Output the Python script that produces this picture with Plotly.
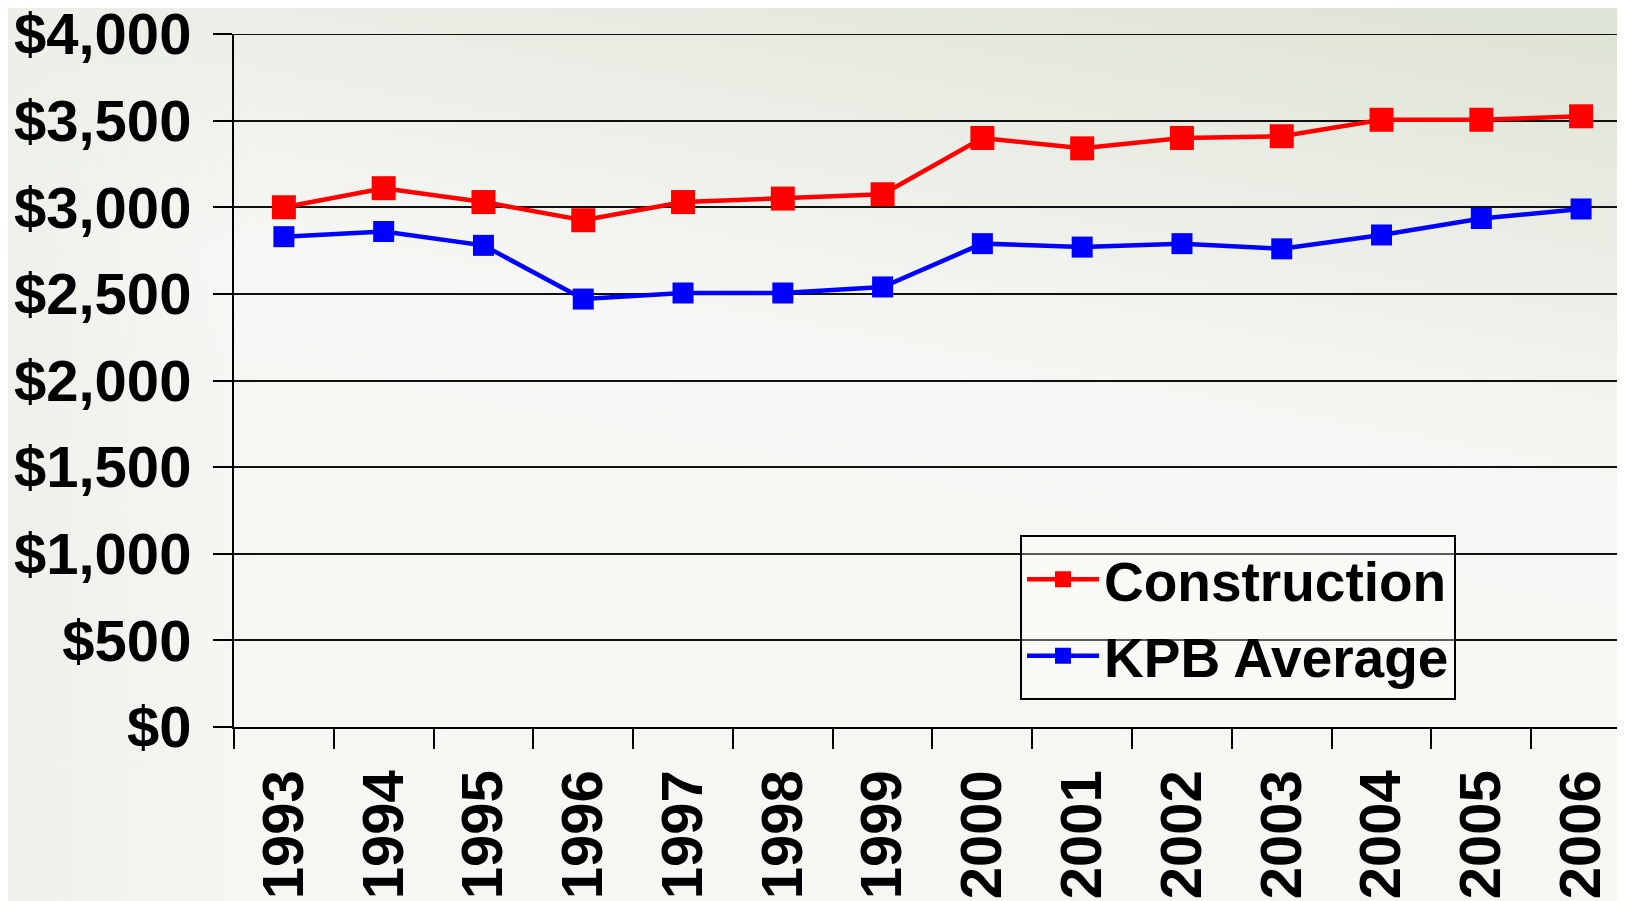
import base64
import plotly.graph_objects as go

# 연도별 데이터
years = ["1993", "1994", "1995", "1996", "1997", "1998", "1999",
         "2000", "2001", "2002", "2003", "2004", "2005", "2006"]
construction = [3000, 3110, 3030, 2925, 3030, 3050, 3075,
                3400, 3340, 3400, 3410, 3505, 3505, 3525]
kpb_average = [2830, 2860, 2780, 2470, 2505, 2505, 2540,
               2790, 2770, 2790, 2760, 2840, 2935, 2990]
y_ticks = [0, 500, 1000, 1500, 2000, 2500, 3000, 3500, 4000]
y_tick_text = ["$0", "$500", "$1,000", "$1,500", "$2,000",
               "$2,500", "$3,000", "$3,500", "$4,000"]

FONT = "Liberation Sans, Arial, sans-serif"

# 페이지 body 여백(8px) 보정
W, H = 1617, 893
L, R, T, B = 226, 0, 26, 174
plot_w = W - L - R
plot_h = H - T - B

# 배경 그라데이션 (SVG)
svg = (
    '<svg xmlns="http://www.w3.org/2000/svg" width="100" height="100" '
    'preserveAspectRatio="none" viewBox="0 0 100 100">'
    '<defs><linearGradient id="g" x1="0.9" y1="0" x2="0.7" y2="0.6">'
    '<stop offset="0" stop-color="#dee4d5"/>'
    '<stop offset="0.4" stop-color="#ebeee6"/>'
    '<stop offset="0.8" stop-color="#f7f8f5"/>'
    '<stop offset="1" stop-color="#f6f7f3"/>'
    '</linearGradient>'
    '<linearGradient id="h" x1="0" y1="0" x2="1" y2="0">'
    '<stop offset="0" stop-color="#eceee8" stop-opacity="0.8"/>'
    '<stop offset="0.15" stop-color="#eceee8" stop-opacity="0"/>'
    '</linearGradient></defs>'
    '<rect width="100" height="100" fill="url(#g)"/>'
    '<rect width="100" height="100" fill="url(#h)"/>'
    '</svg>'
)
bg_src = "data:image/svg+xml;base64," + base64.b64encode(svg.encode()).decode()

fig = go.Figure()

fig.add_trace(go.Scatter(
    x=years,
    y=construction,
    mode='lines+markers',
    name='Construction',
    legendgroup='c',
    line=dict(color='#ff0000', width=4.5),
    marker=dict(symbol='square', size=24, color='#ff0000')
))

fig.add_trace(go.Scatter(
    x=years,
    y=kpb_average,
    mode='lines+markers',
    name='KPB Average',
    legendgroup='k',
    line=dict(color='#0000ff', width=4.5),
    marker=dict(symbol='square', size=21, color='#0000ff')
))

# $4,000 격자선
fig.add_shape(type='line', xref='paper', yref='y', x0=0, x1=1, y0=4000, y1=4000,
              line=dict(color='#111111', width=2))

fig.add_layout_image(
    source=bg_src,
    xref='paper', yref='paper',
    x=-L / plot_w, y=1 + T / plot_h,
    sizex=W / plot_w, sizey=H / plot_h,
    xanchor='left', yanchor='top',
    sizing='stretch',
    layer='below'
)

fig.update_layout(
    width=W,
    height=H,
    margin=dict(l=L, r=R, t=T, b=B, pad=0),
    paper_bgcolor='#eef0ea',
    plot_bgcolor='rgba(0,0,0,0)',
    showlegend=True,
    legend=dict(
        x=(1020 - 8 - L) / plot_w, y=(719 - 527) / plot_h,
        xanchor='left', yanchor='top',
        bgcolor='rgba(255,255,255,0.3)',
        bordercolor='#000000',
        borderwidth=2,
        itemwidth=72,
        traceorder='grouped',
        tracegroupgap=2,
        font=dict(family=FONT, size=55, color='#000000', weight='bold')
    ),
    xaxis=dict(
        type='category',
        range=[-0.5, 13.44],
        automargin=False,
        tickangle=-90,
        tickson='boundaries',
        ticks='outside',
        ticklen=20,
        tickwidth=2,
        tickcolor='#000000',
        ticklabelstandoff=18,
        ticklabeloverflow='allow',
        showgrid=False,
        showline=True,
        linecolor='#000000',
        linewidth=2,
        tickfont=dict(family=FONT, size=58, color='#000000', weight='bold')
    ),
    yaxis=dict(
        range=[0, 4000],
        automargin=False,
        tickvals=y_ticks,
        ticktext=y_tick_text,
        ticks='outside',
        ticklen=19,
        tickwidth=2,
        tickcolor='#000000',
        ticklabelstandoff=10,
        ticklabeloverflow='allow',
        showgrid=True,
        gridcolor='#111111',
        gridwidth=2,
        zeroline=False,
        showline=True,
        linecolor='#000000',
        linewidth=2,
        tickfont=dict(family=FONT, size=58, color='#000000', weight='bold')
    )
)

fig.write_html("out.html")
